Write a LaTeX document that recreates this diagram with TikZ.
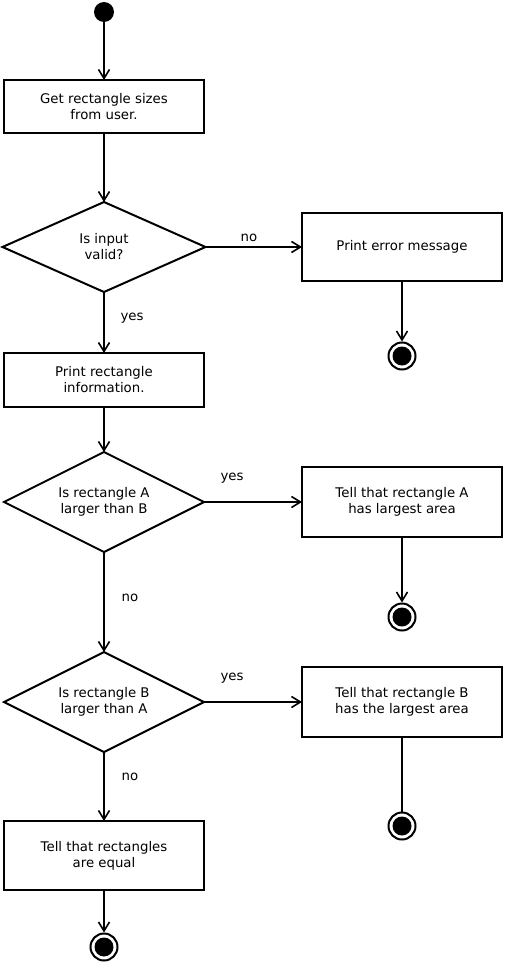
\documentclass[tikz,border=0pt]{standalone}
\usepackage{fontspec}
\setmainfont{DejaVu Sans}
\usetikzlibrary{shapes.geometric,arrows.meta}
\begin{document}
\begin{tikzpicture}[x=1pt,y=-1pt,
  every node/.style={font=\fontsize{13.3}{16}\selectfont},
  box/.style={draw, line width=2pt, rectangle, minimum width=200pt, align=center, inner sep=0pt, outer sep=0pt},
  dec/.style={draw, line width=2pt, diamond, aspect=2, align=center, inner sep=0pt, outer sep=0pt},
  startnode/.style={circle, fill=black, minimum size=20pt, inner sep=0pt, outer sep=0pt},
  endnode/.style={circle, draw, line width=2pt, minimum size=27pt, inner sep=0pt, outer sep=1pt,
    path picture={\fill (path picture bounding box.center) circle (9.5pt);}},
  arr/.style={line width=2pt, -{Straight Barb[length=9pt,width=11pt,line width=1.6pt]}},
  plain/.style={line width=2pt},
  lab/.style={inner sep=0pt}]
\useasboundingbox (0,0) rectangle (504,963);

\node[startnode] (s) at (104,12) {};
\node[box, minimum height=53pt] (b1) at (104,106.5) {Get rectangle sizes\\from user.};
\node[dec, minimum width=203pt, minimum height=90pt] (d1) at (104,247) {Is input\\valid?};
\node[box, minimum height=68pt] (b2) at (402,247) {Print error message};
\node[endnode] (e1) at (402,356) {};
\node[box, minimum height=54pt] (b3) at (104,380) {Print rectangle\\information.};
\node[dec, minimum width=200pt, minimum height=100pt] (d2) at (104,502) {Is rectangle A\\larger than B};
\node[box, minimum height=70pt] (b4) at (402,502) {Tell that rectangle A\\has largest area};
\node[endnode] (e2) at (402,617) {};
\node[dec, minimum width=200pt, minimum height=100pt] (d3) at (104,702) {Is rectangle B\\larger than A};
\node[box, minimum height=70pt] (b5) at (402,702) {Tell that rectangle B\\has the largest area};
\node[endnode] (e3) at (402,826) {};
\node[box, minimum height=69pt] (b6) at (104,855.5) {Tell that rectangles\\are equal};
\node[endnode] (e4) at (104,947) {};

\draw[arr] (s) -- (b1);
\draw[arr] (b1) -- (d1);
\draw[arr] (d1.east) -- (b2.west);
\draw[arr] (b2) -- (e1);
\draw[arr] (d1) -- (b3);
\draw[arr] (b3) -- (d2);
\draw[arr] (d2.east) -- (b4.west);
\draw[arr] (b4) -- (e2);
\draw[arr] (d2) -- (d3);
\draw[arr] (d3.east) -- (b5.west);
\draw[plain] (b5) -- (e3);
\draw[arr] (d3) -- (b6);
\draw[arr] (b6) -- (e4);

\node[lab] (l1) at (249,238) {no};
\node[lab] (l2) at (132,318) {yes};
\node[lab] (l3) at (232,478) {yes};
\node[lab] (l4) at (130,598) {no};
\node[lab] (l5) at (232,678) {yes};
\node[lab] (l6) at (130,777) {no};
\end{tikzpicture}
\end{document}
